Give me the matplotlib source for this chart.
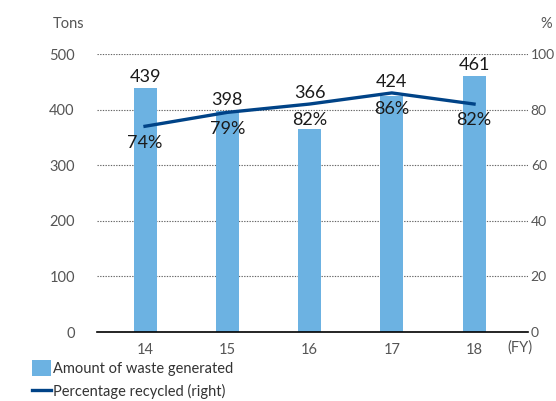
import matplotlib
matplotlib.use('Agg')
import matplotlib.pyplot as plt
from matplotlib.patches import Patch
from matplotlib.lines import Line2D

years = ['14', '15', '16', '17', '18']
waste_tons = [439, 398, 366, 424, 461]
recycled_pct = [74, 79, 82, 86, 82]

plt.rcParams['font.family'] = ['Lato', 'DejaVu Sans']

BAR = '#6cb2e2'
LINE = '#004387'
TICK = '#555555'

fig = plt.figure(figsize=(5.56, 4.01), dpi=100)
ax = fig.add_axes([97 / 556, 1 - 332 / 401, (528 - 97) / 556, (332 - 54) / 401])
ax2 = ax.twinx()

x = list(range(len(years)))
ax.bar(x, waste_tons, width=0.28, color=BAR, zorder=2)
ax.set_ylim(0, 500)
ax.set_xlim(-0.584, 4.656)
ax.set_yticks([0, 100, 200, 300, 400, 500])
ax.set_xticks(x)
ax.set_xticklabels(years)
ax.grid(axis='y', linestyle=(0, (1.2, 1.2)), color='#666666', linewidth=0.8, zorder=0)
for s in ['top', 'left', 'right']:
    ax.spines[s].set_visible(False)
ax.spines['bottom'].set_color('black')
ax.spines['bottom'].set_linewidth(1.2)
ax.spines['bottom'].set_zorder(3)
ax.tick_params(length=0, labelsize=10.5, colors=TICK, pad=16)
ax.tick_params(axis='x', pad=8)

ax2.plot(x, recycled_pct, color=LINE, linewidth=2.4, zorder=4)
ax2.set_ylim(0, 100)
ax2.set_yticks([0, 20, 40, 60, 80, 100])
for s in ax2.spines.values():
    s.set_visible(False)
ax2.tick_params(length=0, labelsize=10, colors=TICK, pad=2)

# value labels: tons above the higher of bar / line, percent below the line point
for i, (t, p) in enumerate(zip(waste_tons, recycled_pct)):
    top = max(t / 500, p / 100)
    ax.annotate(str(t), (i, top * 500), xytext=(0, 2), textcoords='offset points',
                ha='center', va='bottom', fontsize=13, color='#1a1a1a')
    ax2.annotate(f'{p}%', (i, p), xytext=(0, -6), textcoords='offset points',
                 ha='center', va='top', fontsize=13, color='#1a1a1a')

fig.text(53 / 556, 1 - 24 / 401, 'Tons', fontsize=10.5, color=TICK, ha='left', va='center')
fig.text(546 / 556, 1 - 24 / 401, '%', fontsize=10.5, color=TICK, ha='center', va='center')
fig.text(520 / 556, 1 - 348 / 401, '(FY)', fontsize=10.5, color=TICK, ha='center', va='center')

handles = [Patch(facecolor=BAR, edgecolor='none', label='Amount of waste generated'),
           Line2D([], [], color=LINE, linewidth=2.4, label='Percentage recycled (right)')]
fig.legend(handles=handles, loc='upper left', bbox_to_anchor=(22 / 556, 1 - 350 / 401),
           frameon=False, fontsize=10.5, handlelength=1.3, handleheight=1.3,
           handletextpad=0.1, labelspacing=0.5, labelcolor='#333333',
           borderpad=0.2)

fig.savefig('out.png', dpi=100)
